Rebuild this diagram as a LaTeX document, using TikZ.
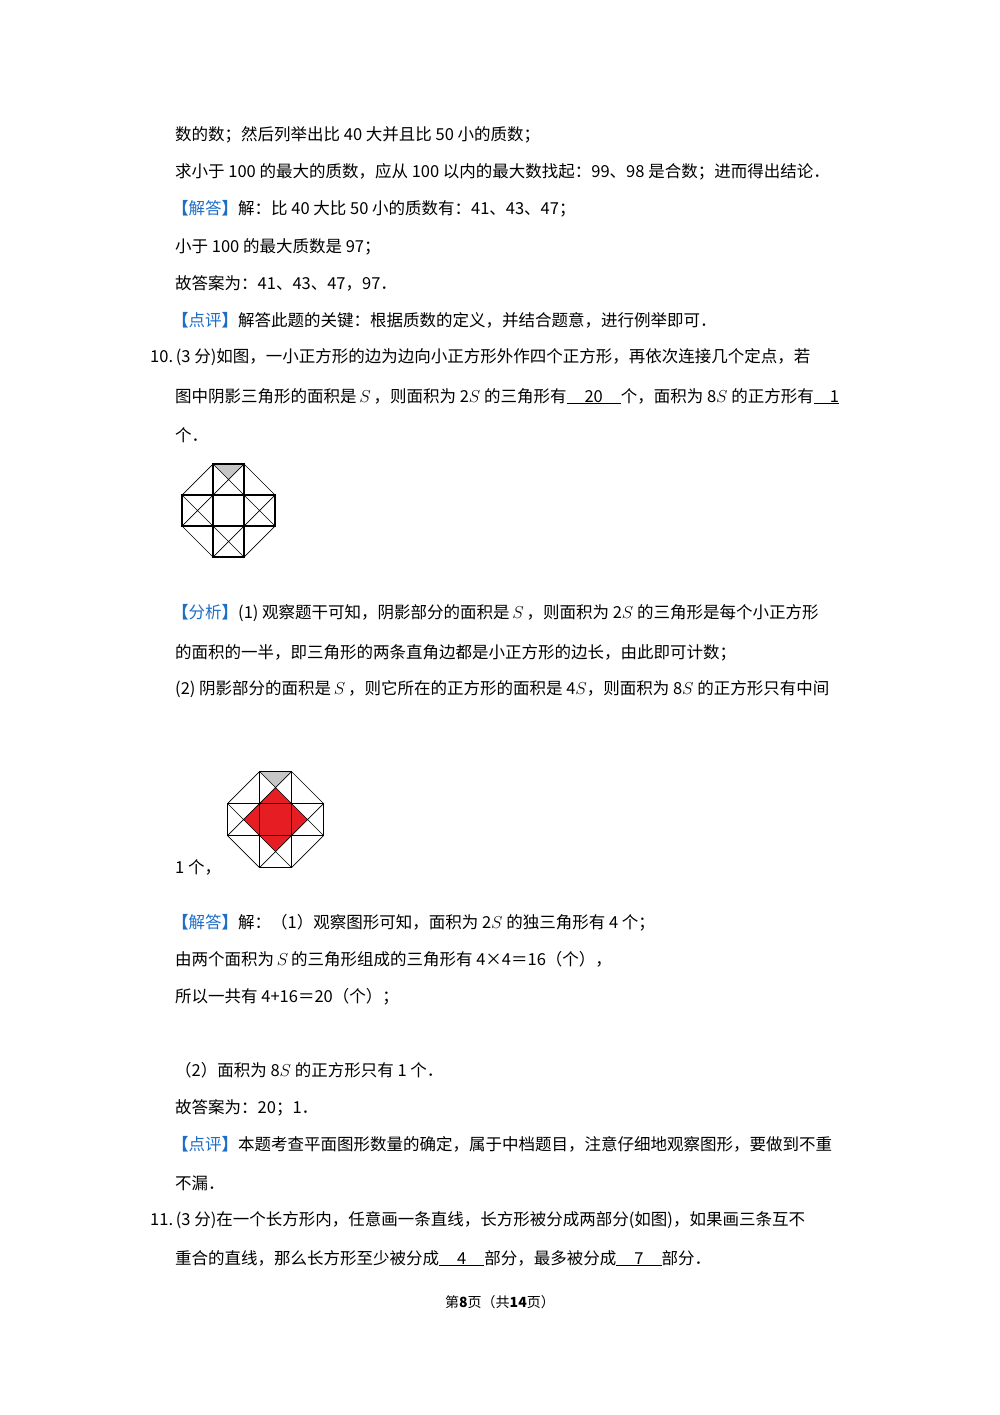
\documentclass[tikz,border=0pt]{standalone}
\usepackage{fontspec}
\setmainfont{Noto Sans CJK SC}
\definecolor{kb}{RGB}{30,110,200}
\definecolor{fillred}{RGB}{230,30,35}
\newcommand{\vS}{\,$S$\,}
\newcommand{\bk}[1]{\textcolor{kb}{\textbf{【}#1\textbf{】}}}
\newcommand{\blank}[1]{\underline{\hspace{18pt}#1\hspace{18pt}}}
\tikzset{txt/.style={anchor=base west,inner sep=0pt,font=\fontsize{16.5}{20}\selectfont},
 thick line/.style={line width=1.3pt},
 thin line/.style={line width=0.7pt}}
\newcommand{\octfig}[4]{% cx cy a extra
\begin{scope}[shift={(#1,#2)}]
 \fill[gray!45] (-#3,-3*#3) -- (#3,-3*#3) -- (0,-2*#3) -- cycle;
 #4
 \draw[thin line] (-#3,-3*#3) -- (#3,-#3) (#3,-3*#3) -- (-#3,-#3)
   (-#3,#3) -- (#3,3*#3) (#3,#3) -- (-#3,3*#3)
   (-3*#3,-#3) -- (-#3,#3) (-3*#3,#3) -- (-#3,-#3)
   (3*#3,-#3) -- (#3,#3) (3*#3,#3) -- (#3,-#3)
   (#3,-3*#3) -- (3*#3,-#3) (3*#3,#3) -- (#3,3*#3)
   (-#3,3*#3) -- (-3*#3,#3) (-3*#3,-#3) -- (-#3,-3*#3);
 \draw[thick line] (-#3,-3*#3) rectangle (#3,3*#3) (-3*#3,-#3) rectangle (3*#3,#3);
\end{scope}}
\begin{document}
\begin{tikzpicture}[x=1pt,y=-1pt]
\useasboundingbox (0,0) rectangle (1000,1415);
\fill[white] (0,0) rectangle (1000,1415);
\node[txt] (l1) at (175,141) {数的数；然后列举出比 40 大并且比 50 小的质数；};
\node[txt] (l2) at (175,178) {求小于 100 的最大的质数，应从 100 以内的最大数找起：99、98 是合数；进而得出结论．};
\node[txt] (l3) at (172,215) {\bk{解答}解：比 40 大比 50 小的质数有：41、43、47；};
\node[txt] (l4) at (175,252) {小于 100 的最大质数是 97；};
\node[txt] (l5) at (175,289) {故答案为：41、43、47，97．};
\node[txt] (l6) at (172,326) {\bk{点评}解答此题的关键：根据质数的定义，并结合题意，进行例举即可．};
\node[txt] (l7) at (150,362) {10.\,(3 分)如图，一小正方形的边为边向小正方形外作四个正方形，再依次连接几个定点，若};
\node[txt] (l8) at (175,402) {图中阴影三角形的面积是\vS，则面积为 2$S$ 的三角形有\blank{20}个，面积为 8$S$ 的正方形有\underline{\hspace{16pt}1}};
\node[txt] (l9) at (175,441) {个．};
\octfig{228.5}{510.5}{15.5}{}
\node[txt] (l10) at (172,618) {\bk{分析}(1) 观察题干可知，阴影部分的面积是\vS，则面积为 2$S$ 的三角形是每个小正方形};
\node[txt] (l11) at (175,658) {的面积的一半，即三角形的两条直角边都是小正方形的边长，由此即可计数；};
\node[txt] (l12) at (175,694) {(2) 阴影部分的面积是\vS，则它所在的正方形的面积是 4$S$，则面积为 8$S$ 的正方形只有中间};
\octfig{275.5}{819.5}{16}{\fill[fillred] (0,-32) -- (32,0) -- (0,32) -- (-32,0) -- cycle;}
\node[txt] (l13) at (175,873) {1 个，};
\node[txt] (l14) at (172,928) {\bk{解答}解：（1）观察图形可知，面积为 2$S$ 的独三角形有 4 个；};
\node[txt] (l15) at (175,965) {由两个面积为\vS 的三角形组成的三角形有 4×4＝16（个），};
\node[txt] (l16) at (175,1002) {所以一共有 4+16＝20（个）；};
\node[txt] (l17) at (175,1076) {（2）面积为 8$S$ 的正方形只有 1 个．};
\node[txt] (l18) at (175,1113) {故答案为：20；1．};
\node[txt] (l19) at (172,1150) {\bk{点评}本题考查平面图形数量的确定，属于中档题目，注意仔细地观察图形，要做到不重};
\node[txt] (l20) at (175,1189) {不漏．};
\node[txt] (l21) at (150,1225) {11.\,(3 分)在一个长方形内，任意画一条直线，长方形被分成两部分(如图)，如果画三条互不};
\node[txt] (l22) at (175,1264) {重合的直线，那么长方形至少被分成\blank{4}部分，最多被分成\blank{7}部分．};
\node[inner sep=0pt,font=\fontsize{14}{16}\selectfont] (foot) at (500,1302) {第\textbf{8}页（共\textbf{14}页）};
\end{tikzpicture}
\end{document}
